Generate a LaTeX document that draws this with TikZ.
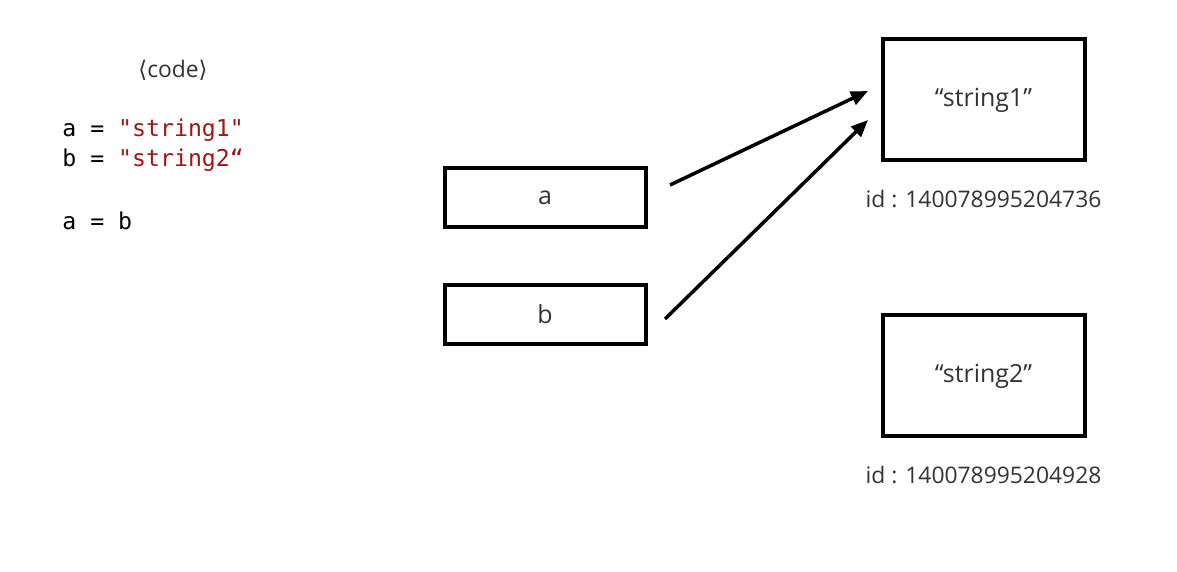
\documentclass[tikz,border=0pt]{standalone}
\usepackage{fontspec}
\setmainfont{Open Sans}
\setmonofont{DejaVu Sans Mono}
\newfontfamily\symfont{DejaVu Sans}
\usepackage{xcolor}
\usetikzlibrary{arrows.meta}
\definecolor{strred}{HTML}{A31515}
\definecolor{labgray}{HTML}{333333}
\tikzset{
  varbox/.style={draw,line width=0.08cm,minimum width=4.02cm,minimum height=1.18cm,inner sep=0pt,font=\fontsize{14.2}{16}\selectfont,text=labgray},
  objbox/.style={draw,line width=0.08cm,minimum width=4.04cm,minimum height=2.42cm,inner sep=0pt,font=\fontsize{14.2}{16}\selectfont,text=labgray},
  idtext/.style={font=\fontsize{13}{15}\selectfont,text=labgray},
  codeline/.style={anchor=west,inner sep=0pt,font=\ttfamily\fontsize{13.2}{15}\selectfont},
  ref/.style={line width=0.07cm,-{Triangle[length=0.34cm,width=0.28cm]}}
}
\begin{document}
\begin{tikzpicture}
\useasboundingbox (0,0) rectangle (23.54,-11.44);
% code on the left
\node[font=\fontsize{13}{15}\selectfont,text=labgray] (title) at (3.46,-1.4) {{\symfont ⟨}code{\symfont ⟩}};
\node[codeline] (la) at (1.24,-2.6) {a = \textcolor{strred}{"string1"}};
\node[codeline] (lb) at (1.24,-3.2) {b = \textcolor{strred}{"string2“}};
\node[codeline] (lab) at (1.24,-4.42) {a = b};
% variables
\node[varbox] (a) at (10.9,-3.95) {a};
\node[varbox] (b) at (10.9,-6.29) {b};
% objects
\node[objbox] (s1) at (19.67,-2.0) {“string1”};
\node[objbox] (s2) at (19.67,-7.52) {“string2”};
\node[idtext] (id1) at (19.67,-3.98) {id : 140078995204736};
\node[idtext] (id2) at (19.67,-9.5) {id : 140078995204928};
% references
\coordinate (pa) at (13.4,-3.7); \coordinate (qa) at (17.36,-1.82);
\coordinate (pb) at (13.3,-6.38); \coordinate (qb) at (17.36,-2.4);
\draw[ref] (pa) -- (qa);
\draw[ref] (pb) -- (qb);
\end{tikzpicture}
\end{document}
